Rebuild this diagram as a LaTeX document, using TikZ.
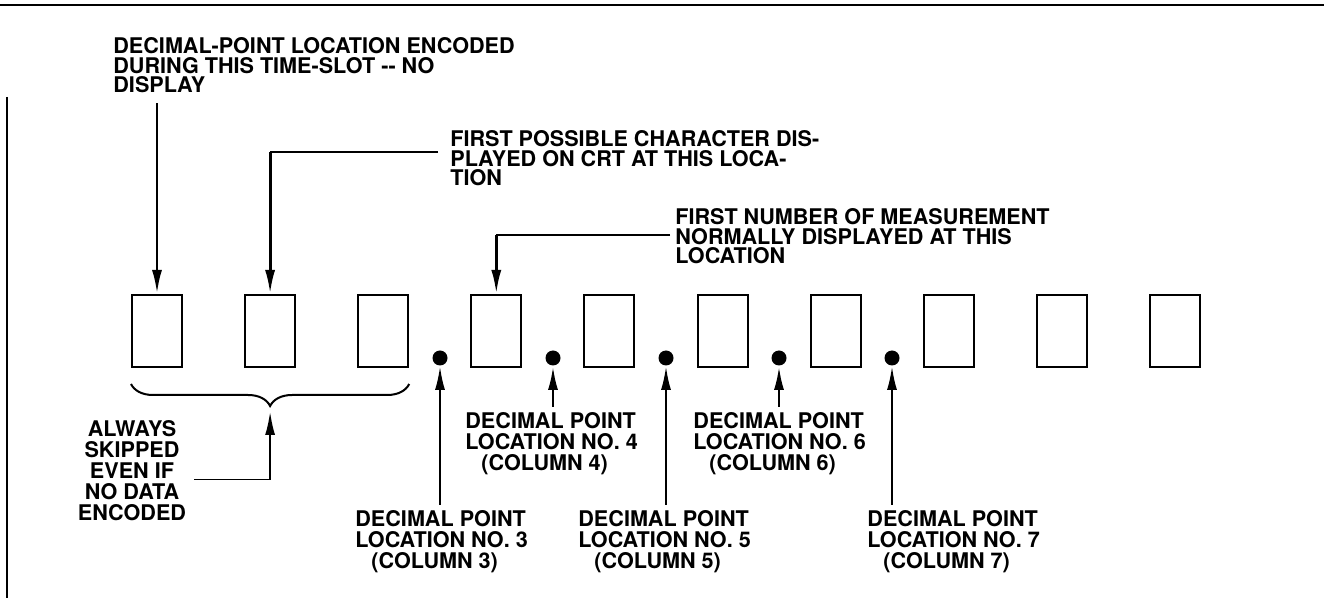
\documentclass[tikz,border=0pt]{standalone}
\usepackage{fontspec}
\setmainfont{TeX Gyre Heros}
\usetikzlibrary{arrows.meta, positioning, calc, decorations.pathreplacing}

\begin{document}
\begin{tikzpicture}[x=0.5pt, y=-0.5pt,
  slot/.style={rectangle, draw, line width=1pt, minimum width=25pt, minimum height=36pt, inner sep=0pt},
  dp/.style={circle, fill, inner sep=0pt, minimum size=7.5pt},
  note/.style={font=\bfseries\fontsize{10.8}{9.8}\selectfont, align=left, inner sep=0pt, anchor=north west},
  lbl/.style={font=\bfseries\fontsize{10.8}{10.5}\selectfont, align=left, inner sep=0pt, anchor=north west},
  arr/.style={-{Latex[length=12pt, width=5pt]}, line width=1.4pt},
  lead/.style={line width=0.6pt},
]
  \useasboundingbox (0,0) rectangle (1324,598);
  \fill[white] (0,0) rectangle (1324,598);

  % frame
  \draw[line width=0.8pt] (0,5) -- (1324,5);
  \draw[line width=0.7pt] (7,97) -- (7,598);

  \node[slot] (b1)  at (157,331)   {};
  \node[slot] (b2)  at (270.1,331) {};
  \node[slot] (b3)  at (383.2,331) {};
  \node[slot] (b4)  at (496.3,331) {};
  \node[slot] (b5)  at (609.4,331) {};
  \node[slot] (b6)  at (722.5,331) {};
  \node[slot] (b7)  at (835.6,331) {};
  \node[slot] (b8)  at (948.7,331) {};
  \node[slot] (b9)  at (1061.8,331){};
  \node[slot] (b10) at (1174.9,331){};

  \node[dp] (d3) at (440,358) {};
  \node[dp] (d4) at (553,358) {};
  \node[dp] (d5) at (666,358) {};
  \node[dp] (d6) at (779,358) {};
  \node[dp] (d7) at (892,358) {};

  \node[note] (t1) at (113,37)  {DECIMAL-POINT LOCATION ENCODED\\DURING THIS TIME-SLOT -{}- NO\\DISPLAY};
  \node[note] (t2) at (450,130) {FIRST POSSIBLE CHARACTER DIS-\\PLAYED ON CRT AT THIS LOCA-\\TION};
  \node[note] (t3) at (675,208) {FIRST NUMBER OF MEASUREMENT\\NORMALLY DISPLAYED AT THIS\\LOCATION};

  \node[lbl, align=center, anchor=north] (skip) at (132,420) {ALWAYS\\SKIPPED\\EVEN IF\\NO DATA\\ENCODED};
  \node[lbl] (l3) at (355,510) {DECIMAL POINT\\LOCATION NO. 3\\\hspace*{8pt}(COLUMN 3)};
  \node[lbl] (l4) at (465,412) {DECIMAL POINT\\LOCATION NO. 4\\\hspace*{8pt}(COLUMN 4)};
  \node[lbl] (l5) at (578,510) {DECIMAL POINT\\LOCATION NO. 5\\\hspace*{8pt}(COLUMN 5)};
  \node[lbl] (l6) at (693,412) {DECIMAL POINT\\LOCATION NO. 6\\\hspace*{8pt}(COLUMN 6)};
  \node[lbl] (l7) at (867,510) {DECIMAL POINT\\LOCATION NO. 7\\\hspace*{8pt}(COLUMN 7)};

  % pointers to the slots
  \draw[arr, shorten <=5pt] (t1.south -| b1) -- (b1.north);
  \draw[lead] ([xshift=-6pt,yshift=-11pt]t2.north west) coordinate (c2) -- (c2 -| b2);
  \draw[arr] (c2 -| b2) -- (b2.north);
  \draw[lead] ([xshift=-2.5pt,yshift=-13.5pt]t3.north west) coordinate (c4) -- (c4 -| b4);
  \draw[arr] (c4 -| b4) -- (b4.north);

  % brace under the skipped slots
  \draw[decorate, decoration={brace, amplitude=11pt}, line width=1pt]
    ([yshift=-8pt]b3.south east) -- ([yshift=-8pt]b1.south west);
  \coordinate (bt) at ($(b1.south west)!0.5!(b3.south east) + (0,43)$);
  \draw[lead] ([xshift=4pt,yshift=-4.5pt]skip.east) coordinate (c0) -- (c0 -| bt);
  \draw[arr, line width=1.2pt] (c0 -| bt) -- (bt);

  % decimal points
  \draw[arr, line width=1.2pt, shorten <=2.5pt] (l3.north -| d3) -- (d3.south);
  \draw[arr, line width=1.4pt, shorten <=2.5pt] (l4.north -| d4) -- (d4.south);
  \draw[arr, line width=1.2pt, shorten <=2.5pt] (l5.north -| d5) -- (d5.south);
  \draw[arr, line width=1.4pt, shorten <=2.5pt] (l6.north -| d6) -- (d6.south);
  \draw[arr, line width=1.2pt, shorten <=2.5pt] (l7.north -| d7) -- (d7.south);
\end{tikzpicture}
\end{document}
